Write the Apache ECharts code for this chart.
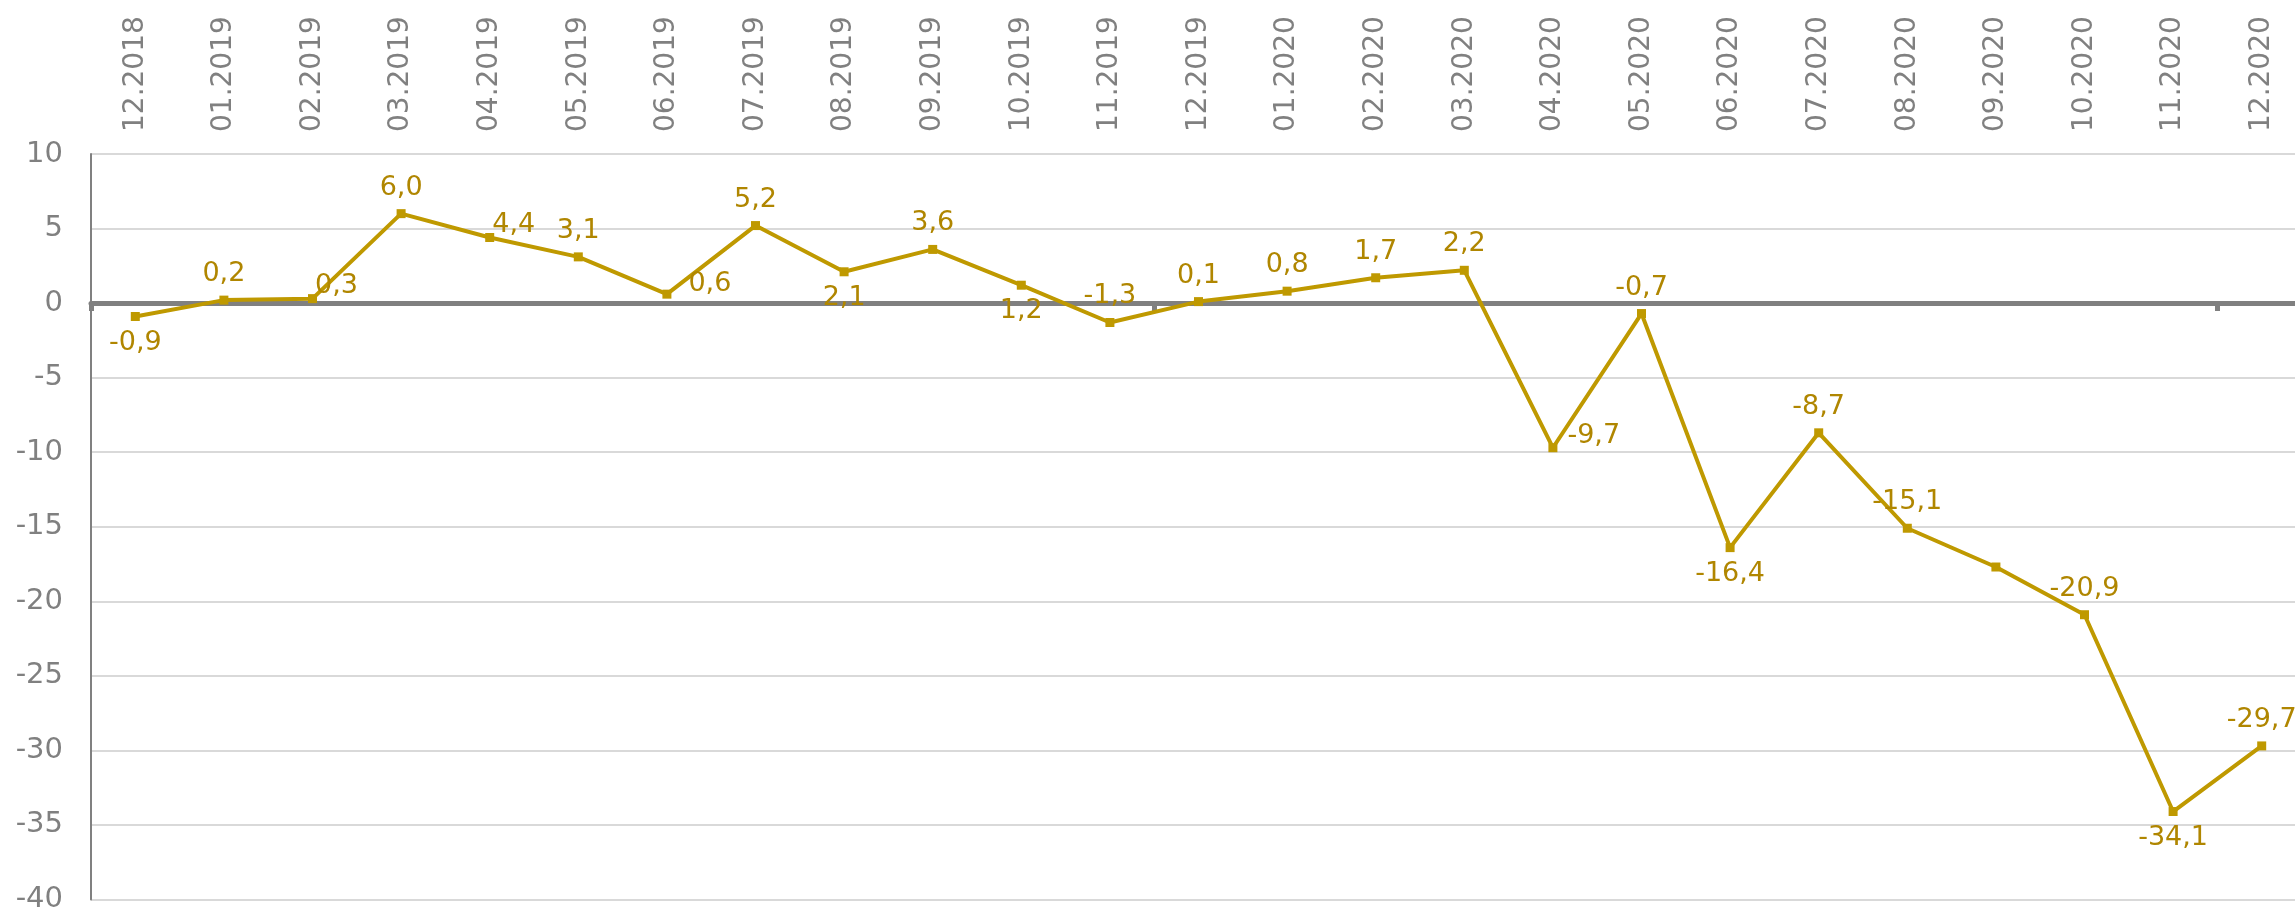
<!DOCTYPE html>
<html><head><meta charset="utf-8">
<script src="https://cdn.jsdelivr.net/npm/echarts@6/dist/echarts.min.js"></script>
<style>html,body{margin:0;padding:0;background:#fff;overflow:hidden}#c{width:2310px;height:914px}</style>
</head><body><div id="c"></div>
<script>
var categories = ['12.2018','01.2019','02.2019','03.2019','04.2019','05.2019','06.2019','07.2019','08.2019','09.2019','10.2019','11.2019','12.2019','01.2020','02.2020','03.2020','04.2020','05.2020','06.2020','07.2020','08.2020','09.2020','10.2020','11.2020','12.2020'];
var values = [-0.9,0.2,0.3,6.0,4.4,3.1,0.6,5.2,2.1,3.6,1.2,-1.3,0.1,0.8,1.7,2.2,-9.7,-0.7,-16.4,-8.7,-15.1,-17.7,-20.9,-34.1,-29.7];
var yTicks = {min:-40, max:10, step:5};
var labelPlacement = ['bottom','top','right','top','right','top','right','top','bottom','top','bottom','top','top','top','top','top','right','top','bottom','top','top','none','top','bottom','top'];
var rightLabelOffsets = {2:[-10,-13], 4:[-10,-13], 6:[9,-10], 16:[2,-12]};

var chart = echarts.init(document.getElementById('c'));
var FONT = 'DejaVu Sans';
var seriesData = values.map(function(v, i){
  var p = labelPlacement[i];
  var item = {value: v};
  if (p === 'none') item.label = {show:false};
  else if (p === 'right') item.label = {position:'right', offset:rightLabelOffsets[i] || [0,-8]};
  else item.label = {position:p};
  return item;
});
chart.setOption({
  animation:false,
  grid:{left:91, right:4, top:154, bottom:13, containLabel:false},
  xAxis:[{
    type:'category', data:categories, position:'top', boundaryGap:true,
    axisLine:{show:false, onZero:false}, axisTick:{show:false},
    axisLabel:{rotate:-90, color:'#808080', fontFamily:FONT, fontSize:28, margin:22, interval:0}
  },{
    type:'category', data:categories, position:'bottom', boundaryGap:true,
    axisLine:{show:true, onZero:true, lineStyle:{color:'#808080', width:5}},
    axisTick:{show:true, interval:11, length:8, lineStyle:{color:'#808080', width:5}},
    axisLabel:{show:false}
  }],
  yAxis:{
    type:'value', min:yTicks.min, max:yTicks.max, interval:yTicks.step,
    axisLine:{show:true, lineStyle:{color:'#808080', width:2}},
    axisTick:{show:false},
    axisLabel:{color:'#808080', fontFamily:FONT, fontSize:29, margin:28},
    splitLine:{show:true, lineStyle:{color:'#d9d9d9', width:2}}
  },
  series:[{
    type:'line', xAxisIndex:0, data:seriesData,
    lineStyle:{color:'#BF9900', width:4},
    itemStyle:{color:'#BF9900'},
    symbol:'rect', symbolSize:9,
    label:{show:true, color:'#B08600', fontFamily:FONT, fontSize:27, distance:8,
      formatter:function(p){return p.value.toFixed(1).replace('.', ',');}}
  }]
});
</script></body></html>
